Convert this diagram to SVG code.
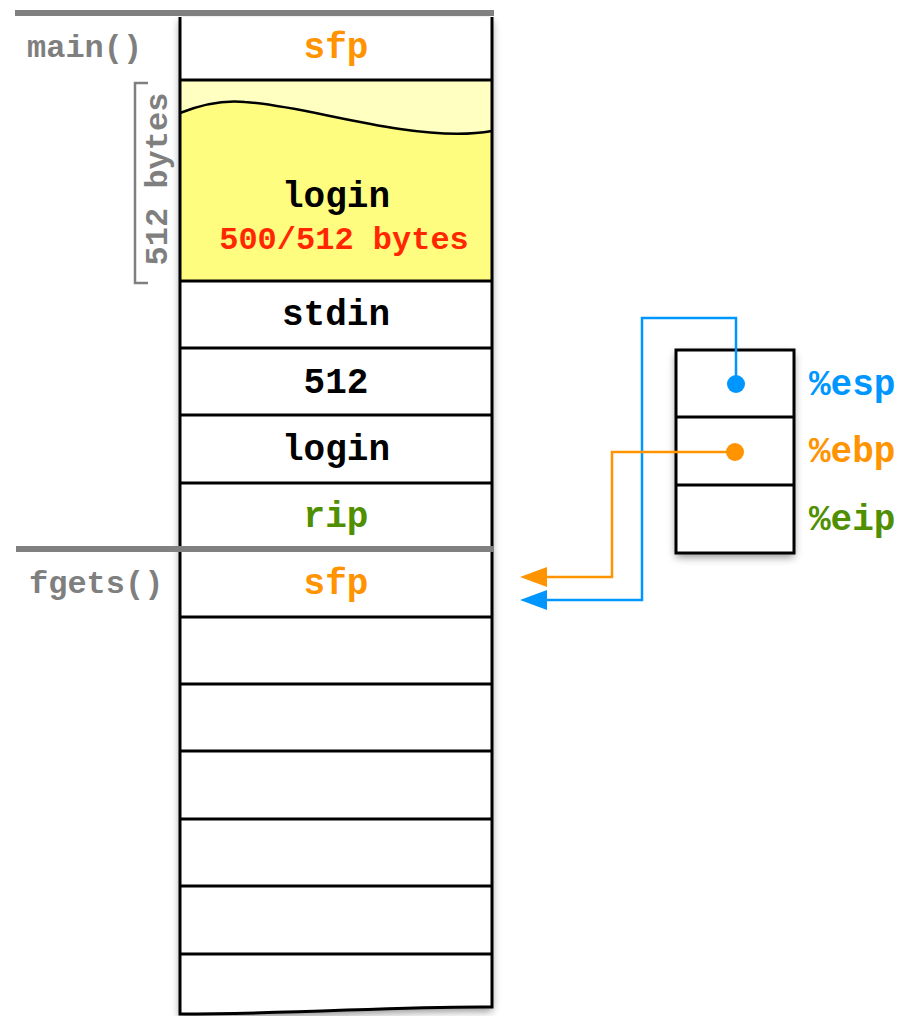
<svg xmlns="http://www.w3.org/2000/svg" width="901" height="1016" viewBox="0 0 901 1016">
<defs>
<style>
.t{font-family:"Liberation Mono","Courier New",monospace;font-weight:bold;}
.cell{font-size:36px;text-anchor:middle;}
.lbl{font-size:32px;fill:#7f7f7f;}
.reg{font-size:36px;}
.row{stroke:#000;stroke-width:3;fill:none;}
.bar{stroke:#808080;stroke-width:6;}
</style>
<filter id="sh" x="-10%" y="-10%" width="120%" height="120%">
<feDropShadow dx="0" dy="4" stdDeviation="4" flood-color="#000" flood-opacity="0.45"/>
</filter>
<marker id="ab" markerWidth="10" markerHeight="10" viewBox="0 0 10 10" refX="1" refY="5" orient="auto-start-reverse" markerUnits="userSpaceOnUse">
<path d="M0,0 L10,5 L0,10 Z" fill="#0096ff"/>
</marker>
</defs>
<g id="stack">
<path d="M180,17 L492,17 L492,1007 C400,1006 300,1014 180,1014 Z" fill="#fff" filter="url(#sh)"/>
<rect x="180" y="80" width="312" height="201" fill="#fffd80"/>
<path d="M180,80 L492,80 L492,131 C470,135 440,135 400,129 C340,120 290,105 245,102 C225,100 205,103 180,113 Z" fill="#ffffc2"/>
<path d="M180,113 C205,103 225,100 245,102 C290,105 340,120 400,129 C440,135 470,135 492,131" fill="none" stroke="#000" stroke-width="2.5"/>
<path d="M180,17 L180,1014 C300,1014 400,1006 492,1007 L492,17" class="row"/>
<g class="row">
<line x1="180" y1="80" x2="492" y2="80"/>
<line x1="180" y1="281" x2="492" y2="281"/>
<line x1="180" y1="348" x2="492" y2="348"/>
<line x1="180" y1="415" x2="492" y2="415"/>
<line x1="180" y1="483" x2="492" y2="483"/>
<line x1="180" y1="617" x2="492" y2="617"/>
<line x1="180" y1="684" x2="492" y2="684"/>
<line x1="180" y1="751" x2="492" y2="751"/>
<line x1="180" y1="819" x2="492" y2="819"/>
<line x1="180" y1="886" x2="492" y2="886"/>
<line x1="180" y1="954" x2="492" y2="954"/>
</g>
<line class="bar" x1="15" y1="13" x2="494" y2="13"/>
<line class="bar" x1="16" y1="549" x2="494" y2="549"/>
</g>
<g id="labels">
<text class="t lbl" x="27" y="57">main()</text>
<text class="t lbl" x="29" y="593">fgets()</text>
<path d="M148,83 L135,83 L135,283 L148,283" fill="none" stroke="#7f7f7f" stroke-width="2.5"/>
<text class="t lbl" text-anchor="middle" transform="translate(167,179) rotate(-90)">512 bytes</text>
</g>
<g id="cells">
<text class="t cell" x="336" y="58" fill="#ff9300">sfp</text>
<text class="t cell" x="336" y="207" fill="#000">login</text>
<text class="t" x="344" y="249" font-size="32" text-anchor="middle" fill="#ff2600">500/512 bytes</text>
<text class="t cell" x="336" y="325" fill="#000">stdin</text>
<text class="t cell" x="336" y="393" fill="#000">512</text>
<text class="t cell" x="336" y="460" fill="#000">login</text>
<text class="t cell" x="336" y="527" fill="#4f8f00">rip</text>
<text class="t cell" x="336" y="594" fill="#ff9300">sfp</text>
</g>
<g id="registers">
<rect x="676" y="350" width="118" height="203" fill="#fff" filter="url(#sh)"/>
<rect x="676" y="350" width="118" height="203" class="row"/>
<line class="row" x1="676" y1="417" x2="794" y2="417"/>
<line class="row" x1="676" y1="485" x2="794" y2="485"/>
<text class="t reg" x="809" y="395" fill="#0096ff">%esp</text>
<text class="t reg" x="809" y="462" fill="#ff9300">%ebp</text>
<text class="t reg" x="809" y="530" fill="#4f8f00">%eip</text>
</g>
<g id="connectors">
<polyline points="736,384 736,318 642,318 642,600 544,600" fill="none" stroke="#0096ff" stroke-width="2.5"/>
<path d="M520,600 L547,590 L547,610 Z" fill="#0096ff"/>
<circle cx="736" cy="384" r="9" fill="#0096ff"/>
<polyline points="735,452 612,452 612,577 544,577" fill="none" stroke="#ff9300" stroke-width="2.5"/>
<path d="M520,577 L547,567 L547,587 Z" fill="#ff9300"/>
<circle cx="735" cy="452" r="9" fill="#ff9300"/>
</g>
</svg>
